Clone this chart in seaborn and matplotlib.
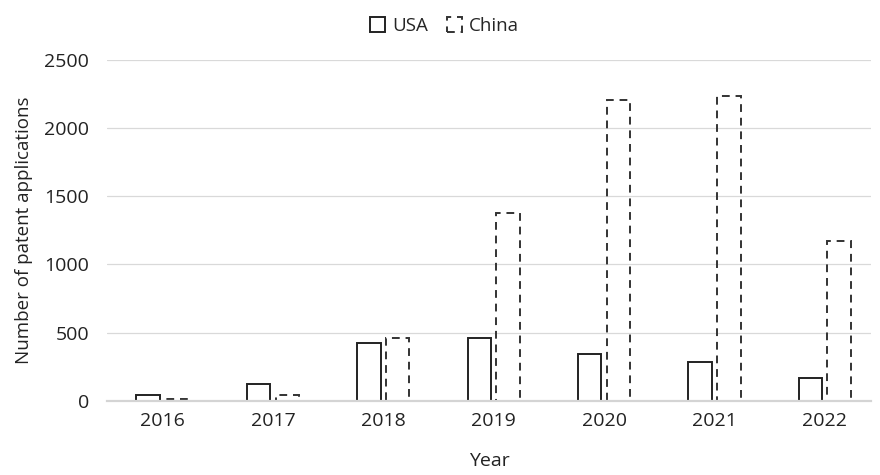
import matplotlib
matplotlib.use("Agg")
import matplotlib.pyplot as plt
import seaborn as sns
import pandas as pd
from matplotlib.patches import Patch

years = ["2016", "2017", "2018", "2019", "2020", "2021", "2022"]
usa = [45, 125, 425, 462, 345, 286, 170]
china = [15, 45, 462, 1380, 2205, 2235, 1175]
series = ["USA", "China"]

df = pd.DataFrame({
    "Year": years * 2,
    "Value": usa + china,
    "Country": ["USA"] * len(years) + ["China"] * len(years),
})

sns.set_theme(style="white")
plt.rcParams['font.family'] = ['Open Sans', 'DejaVu Sans']

fig = plt.figure(figsize=(8.8, 4.75), dpi=100)
ax = fig.add_axes([0.122, 0.156, 0.868, 0.718])

sns.barplot(data=df, x="Year", y="Value", hue="Country", order=years,
            hue_order=series, palette=["#222222", "#333333"], fill=False,
            width=0.52, gap=0.18, linewidth=1.4, errorbar=None, ax=ax,
            legend=False)

n = len(years)
for i, p in enumerate(ax.patches):
    if i >= n:
        p.set_linestyle((0, (4, 3)))
        p.set_edgecolor("#333333")

ax.set_ylim(0, 2500)
ax.set_yticks([0, 500, 1000, 1500, 2000, 2500])
ax.set_xlim(-0.5, 6.42)
ax.yaxis.grid(True, color="#d9d9d9", linewidth=0.9)
ax.set_axisbelow(True)
for s in ["top", "right", "left"]:
    ax.spines[s].set_visible(False)
ax.spines["bottom"].set_color("#d4d4d4")
ax.spines["bottom"].set_linewidth(1.6)
ax.spines["bottom"].set_zorder(10)
ax.tick_params(axis="both", length=0, labelsize=14, colors="#222222")
ax.tick_params(axis="x", pad=8)
ax.tick_params(axis="y", pad=13)
ax.set_xlabel("Year", fontsize=14, color="#222222", labelpad=16)
ax.set_ylabel("Number of patent applications", fontsize=13.5, color="#222222", labelpad=8)

handles = [Patch(facecolor="none", edgecolor="#222222", linewidth=1.4, label="USA"),
           Patch(facecolor="none", edgecolor="#333333", linewidth=1.4,
                 linestyle=(0, (4, 3)), label="China")]
fig.legend(handles=handles, loc="upper center", bbox_to_anchor=(0.505, 1.0),
           ncol=2, frameon=False, fontsize=13.5, handlelength=0.8,
           handleheight=0.8, handletextpad=0.4, columnspacing=1.0)

fig.savefig("out.png", dpi=100)
